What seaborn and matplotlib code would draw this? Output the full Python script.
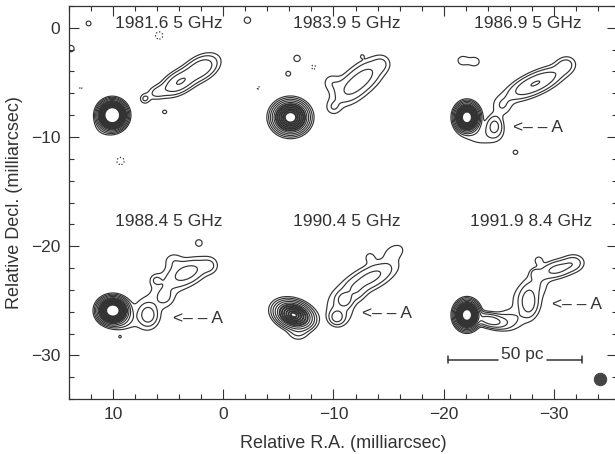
import numpy as np
import matplotlib.pyplot as plt
import seaborn as sns

# epoch labels of the six maps
epochs = ["1981.6 5 GHz", "1983.9 5 GHz", "1986.9 5 GHz",
          "1988.4 5 GHz", "1990.4 5 GHz", "1991.9 8.4 GHz"]
epoch_x = [4.9, -11.2, -27.6, 4.9, -11.2, -27.9]
epoch_y = [0.4, 0.4, 0.4, -17.7, -17.7, -17.7]

# knot A arrows (start of "<-- A")
arrow_x = [-26.3, 4.5, -12.6, -29.8]
arrow_y = [-9.1, -26.6, -26.2, -25.3]

# compact cores: ra, dec, peak, scale major, scale minor, angle (exponential profile)
cores = [
    (10.05, -8.0, 130000, 0.144, 0.148, 0),
    (-6.1, -8.2, 9000, 0.235, 0.215, 0),
    (-22.1, -8.2, 22000, 0.145, 0.17, 0),
    (10.0, -25.9, 33000, 0.173, 0.155, 0),
    (-6.4, -26.3, 2600, 0.30, 0.20, 20),
    (-22.1, -26.3, 22000, 0.145, 0.17, 0),
]

# jet components:
# ra, dec, peak (in units of lowest contour), sigma major, sigma minor, angle
comps_1981 = [
    (10.6, -9.0, 2.0, 0.6, 0.5, 0),
    (4.0, -5.0, 8, 1.0, 0.55, -30),
    (2.0, -3.7, 7, 1.0, 0.6, -30),
    (6.0, -5.9, 2.3, 0.6, 0.4, -20),
    (7.1, -6.5, 2.2, 0.3, 0.3, 0),
    (5.3, -7.7, 1.3, 0.25, 0.22, 0),
]
comps_1983 = [
    (-11.5, -5.6, 4.0, 1.2, 0.75, -40),
    (-13.0, -4.3, 4.0, 1.2, 0.75, -40),
    (-10.0, -7.3, 1.6, 0.45, 0.45, 0),
    (-9.8, -5.0, 1.5, 0.55, 0.55, 0),
    (-14.4, -3.3, 1.4, 0.5, 0.5, 0),
    (-12.6, -2.6, 1.05, 0.15, 0.15, 0),
    (-6.7, -2.8, 1.4, 0.35, 0.35, 0),
    (-5.9, -4.2, 1.3, 0.3, 0.3, 0),
]
comps_1986 = [
    (-24.6, -9.0, 5, 0.45, 0.6, 0),
    (-23.5, -9.9, 1.5, 1.3, 0.7, 0),
    (-25.3, -7.2, 1.8, 0.6, 0.6, 0),
    (-28.3, -5.1, 8.3, 1.6, 0.55, -25),
    (-31.0, -3.4, 2.5, 0.6, 0.5, -25),
    (-21.7, -3.0, 1.5, 0.45, 0.4, 0),
    (-22.8, -3.1, 1.5, 0.45, 0.4, 0),
    (-26.5, -11.4, 1.25, 0.3, 0.28, 0),
]
comps_1988 = [
    (9.3, -26.8, 3, 0.7, 0.5, 0),
    (6.8, -26.3, 5.0, 0.45, 0.55, 0),
    (7.0, -26.3, 1.8, 1.0, 1.1, 0),
    (5.3, -24.7, 1.8, 0.55, 0.55, 0),
    (6.1, -23.1, 1.6, 0.35, 0.35, 0),
    (5.0, -23.5, 1.2, 1.6, 1.0, -40),
    (3.2, -22.4, 5, 1.2, 0.65, -25),
    (4.5, -21.3, 1.4, 0.6, 0.5, 0),
    (1.2, -21.8, 1.8, 0.5, 0.5, 0),
    (2.2, -19.7, 1.4, 0.35, 0.35, 0),
    (9.35, -28.3, 1.1, 0.2, 0.2, 0),
]
comps_1990 = [
    (-6.8, -27.9, 2.0, 0.6, 0.5, 0),
    (-10.3, -26.5, 5, 0.4, 0.4, 0),
    (-11.0, -24.9, 5, 0.4, 0.4, 0),
    (-10.6, -25.7, 2.2, 0.9, 1.1, 0),
    (-12.0, -24.2, 2.0, 0.6, 0.6, 0),
    (-13.3, -22.9, 5, 1.6, 0.65, -27),
    (-15.5, -20.5, 1.8, 0.7, 0.45, -27),
    (-13.3, -21.0, 1.3, 0.4, 0.4, 0),
]
comps_1991 = [
    (-24.2, -26.8, 12, 0.8, 0.35, 13),
    (-25.8, -26.8, 2.5, 0.9, 0.6, 0),
    (-27.7, -25.1, 5, 0.45, 0.8, 0),
    (-27.5, -25.0, 2, 1.0, 1.1, 0),
    (-30.3, -22.1, 5, 1.1, 0.5, -15),
    (-28.3, -22.5, 2.2, 0.3, 0.3, 0),
    (-28.6, -21.3, 1.6, 0.3, 0.3, 0),
    (-31.8, -21.5, 2, 0.6, 0.5, 0),
    (-28.5, -23.5, 1.5, 0.7, 0.7, 0),
]
# noise blobs (negative ones are drawn dotted)
noise = [
    (12.2, 0.4, 1.3, 0.3, 0.3, 0),
    (13.8, -1.9, 1.4, 0.35, 0.35, 0),
    (-2.2, 0.7, 1.4, 0.35, 0.35, 0),
    (5.8, -0.7, -1.4, 0.4, 0.4, 0),
    (9.3, -12.2, -1.4, 0.4, 0.4, 0),
    (12.9, -5.5, -1.1, 0.2, 0.2, 0),
    (-8.2, -3.6, -1.2, 0.3, 0.3, 0),
    (-3.2, -5.5, -1.1, 0.25, 0.25, 0),
]

beam_x = [-34.2]
beam_y = [-32.2]
bar_x = [-20.4, -32.5]
bar_y = -30.4

low_levels = [1, 2, 4, 8, 16]
high_levels = [32, 64, 128, 256, 512, 1024]

sns.set_style("ticks")
plt.rcParams["font.family"] = ["Liberation Sans", "DejaVu Sans"]
ink = "#333333"
plt.rcParams["text.color"] = ink
plt.rcParams["axes.labelcolor"] = ink
plt.rcParams["xtick.color"] = ink
plt.rcParams["ytick.color"] = ink
plt.rcParams["axes.edgecolor"] = ink


def rotate(X, Y, ra, dec, pa):
    t = np.deg2rad(pa)
    u = (X - ra) * np.cos(t) + (Y - dec) * np.sin(t)
    v = -(X - ra) * np.sin(t) + (Y - dec) * np.cos(t)
    return u, v


def brightness(X, Y):
    img = np.zeros_like(X)
    for ra, dec, peak, ha, hb, pa in cores:
        u, v = rotate(X, Y, ra, dec, pa)
        img += peak * np.exp(-np.sqrt((u / ha) ** 2 + (v / hb) ** 2))
    gauss = comps_1981 + comps_1983 + comps_1986 + comps_1988 + comps_1990 + comps_1991 + noise
    for ra, dec, peak, sa, sb, pa in gauss:
        u, v = rotate(X, Y, ra, dec, pa)
        img += peak * np.exp(-0.5 * ((u / sa) ** 2 + (v / sb) ** 2))
    return img


xs = np.arange(15, -36.5, -0.04)
ys = np.arange(-35, 3, 0.04)
X, Y = np.meshgrid(xs, ys)
Z = brightness(X, Y)

fig = plt.figure(figsize=(6.15, 4.54), dpi=100)
ax = fig.add_axes([0.1117, 0.1211, 0.8915, 0.8657])

ax.contour(X, Y, Z, levels=low_levels, colors=ink, linewidths=0.85)
ax.contour(X, Y, Z, levels=high_levels, colors=ink, linewidths=1.4)
ax.contour(X, Y, Z, levels=[-1.0], colors=ink, linewidths=0.9, linestyles=":")

for lab, x, y in zip(epochs, epoch_x, epoch_y):
    ax.text(x, y, lab, ha="center", va="center", fontsize=12.5)
for x, y in zip(arrow_x, arrow_y):
    ax.text(x, y, "<\u2013 \u2013 A", ha="left", va="center", fontsize=12.5)

# scale bar
ax.plot([bar_x[0], -24.9], [bar_y, bar_y], color=ink, lw=1.1)
ax.plot([-29.4, bar_x[1]], [bar_y, bar_y], color=ink, lw=1.1)
ax.plot([bar_x[0], bar_x[0]], [bar_y - 0.3, bar_y + 0.3], color=ink, lw=1.1)
ax.plot([bar_x[1], bar_x[1]], [bar_y - 0.3, bar_y + 0.3], color=ink, lw=1.1)
ax.text(-27.15, bar_y + 0.45, "50 pc", ha="center", va="center", fontsize=12.5)

sns.scatterplot(x=beam_x, y=beam_y, ax=ax, s=80, color="#444444", edgecolor="#444444", legend=False)

ax.set_xlim(14.0, -35.7)
ax.set_ylim(-34.0, 2.0)
ax.set_xticks([10, 0, -10, -20, -30])
ax.set_yticks([0, -10, -20, -30])
ax.set_xticks(np.arange(14, -36, -2), minor=True)
ax.set_yticks(np.arange(2, -35, -2), minor=True)
ax.tick_params(which="both", direction="in", top=True, right=True, labelsize=12.5, width=0.8)
ax.tick_params(which="major", length=7, pad=6)
ax.tick_params(which="minor", length=3.5)
for s in ax.spines.values():
    s.set_linewidth(0.9)

ax.set_xlabel("Relative R.A. (milliarcsec)", fontsize=13, labelpad=9)
ax.set_ylabel("Relative Decl. (milliarcsec)", fontsize=13, labelpad=6)

fig.savefig("out.png", dpi=100)
